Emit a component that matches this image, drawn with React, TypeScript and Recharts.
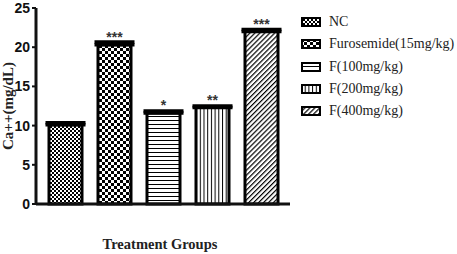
import { BarChart, Bar, XAxis, YAxis, ErrorBar, Legend, Label } from 'recharts';

// treatment groups and their mean serum calcium (mg/dL)
const GROUPS = ['NC', 'Furosemide(15mg/kg)', 'F(100mg/kg)', 'F(200mg/kg)', 'F(400mg/kg)'];
const KEYS = ['nc', 'furo', 'f100', 'f200', 'f400'];
const MEANS = [10.1, 20.3, 11.6, 12.3, 22.0];
const SEM = [0.25, 0.35, 0.25, 0.2, 0.25];
const STARS = ['', '***', '*', '**', '***'];
const Y_TICKS = [0, 5, 10, 15, 20, 25];
const PATTERNS = ['pNC', 'pFuro', 'pH', 'pV', 'pD'];

const row: Record<string, any> = { group: '' };
KEYS.forEach((k, i) => {
  row[k] = MEANS[i];
  row[k + 'Err'] = [0, SEM[i]];
});
const data = [row];

const INK = '#111';
const SERIF = '"Liberation Serif", "Times New Roman", serif';
const SANS = '"Liberation Sans", Arial, sans-serif';

function Patterns() {
  return (
    <defs>
      <pattern id="pNC" width="4" height="4" patternUnits="userSpaceOnUse">
        <rect width="4" height="4" fill="#fff" />
        <rect width="2" height="2" fill="#000" />
        <rect x="2" y="2" width="2" height="2" fill="#000" />
      </pattern>
      <pattern id="pFuro" width="6" height="6" patternUnits="userSpaceOnUse">
        <rect width="6" height="6" fill="#fff" />
        <rect width="3" height="3" fill="#000" />
        <rect x="3" y="3" width="3" height="3" fill="#000" />
      </pattern>
      <pattern id="pH" width="4" height="4" patternUnits="userSpaceOnUse">
        <rect width="4" height="4" fill="#fff" />
        <rect y="0" width="4" height="1" fill="#000" />
      </pattern>
      <pattern id="pV" width="3.7" height="4" patternUnits="userSpaceOnUse">
        <rect width="3.7" height="4" fill="#fff" />
        <rect x="0" width="1" height="4" fill="#000" />
      </pattern>
      <pattern id="pD" width="3.5" height="3.5" patternUnits="userSpaceOnUse" patternTransform="rotate(45)">
        <rect width="3.5" height="3.5" fill="#fff" />
        <rect x="0" width="1.2" height="3.5" fill="#000" />
      </pattern>
    </defs>
  );
}

const renderLegend = () => (
  <div style={{ fontFamily: SERIF, fontSize: 14, color: '#222' }}>
    {GROUPS.map((g, i) => (
      <div key={g} style={{ display: 'flex', alignItems: 'center', height: 22.3, whiteSpace: 'nowrap' }}>
        <svg width={20} height={10} style={{ marginRight: 8, flexShrink: 0 }}>
          <rect x={1} y={1} width={18} height={8} fill={`url(#${PATTERNS[i]})`} stroke="#000" strokeWidth={2} />
        </svg>
        <span style={{ fontFamily: SERIF }}>{g}</span>
      </div>
    ))}
  </div>
);

const starLabel = (i: number) => (props: any) => {
  const { x, y, width } = props;
  if (!STARS[i]) return null;
  return (
    <text x={x + width / 2} y={y - 3} textAnchor="middle" fontFamily={SANS} fontWeight="bold" fontSize={14} fill="#333">
      {STARS[i]}
    </text>
  );
};

export default function App() {
  return (
    <div style={{ position: 'absolute', left: 0, top: 0, background: '#fff' }}>
      <BarChart width={457} height={254} data={data} margin={{ top: 8, right: 167, left: 0, bottom: 0 }} barSize={33} barGap={16}>
        <Patterns />
        <XAxis
          dataKey="group"
          height={50}
          axisLine={{ stroke: INK, strokeWidth: 3 }}
          tickLine={{ stroke: INK, strokeWidth: 2 }}
          tickSize={6}
          tick={false}
        >
          <Label
            content={() => (
              <text x={160} y={249} textAnchor="middle" fontFamily={SERIF} fontWeight="bold" fontSize={14.5} fill="#222">
                Treatment Groups
              </text>
            )}
          />
        </XAxis>
        <YAxis
          width={36}
          domain={[0, 25]}
          ticks={Y_TICKS}
          interval={0}
          axisLine={{ stroke: INK, strokeWidth: 3 }}
          tickLine={{ stroke: INK, strokeWidth: 2 }}
          tickSize={4}
          tick={{ fill: '#111', fontSize: 14, fontWeight: 700, fontFamily: SANS }}
        >
          <Label
            content={() => (
              <text
                x={10}
                y={106}
                transform="rotate(-90, 10, 106)"
                textAnchor="middle"
                dominantBaseline="middle"
                fontFamily={SERIF}
                fontWeight="bold"
                fontSize={15}
                fill="#222"
              >
                Ca++(mg/dL)
              </text>
            )}
          />
        </YAxis>
        <Legend
          layout="vertical"
          align="center"
          verticalAlign="middle"
          content={renderLegend}
          wrapperStyle={{ left: 301, top: 11, width: 156, overflow: 'visible' }}
        />
        {KEYS.map((k, i) => (
          <Bar
            key={k}
            dataKey={k}
            name={GROUPS[i]}
            fill={`url(#${PATTERNS[i]})`}
            stroke="#000"
            strokeWidth={3}
            isAnimationActive={false}
            label={starLabel(i)}
          >
            <ErrorBar dataKey={k + 'Err'} direction="y" width={20} stroke="#000" strokeWidth={3.5} />
          </Bar>
        ))}
      </BarChart>
    </div>
  );
}
